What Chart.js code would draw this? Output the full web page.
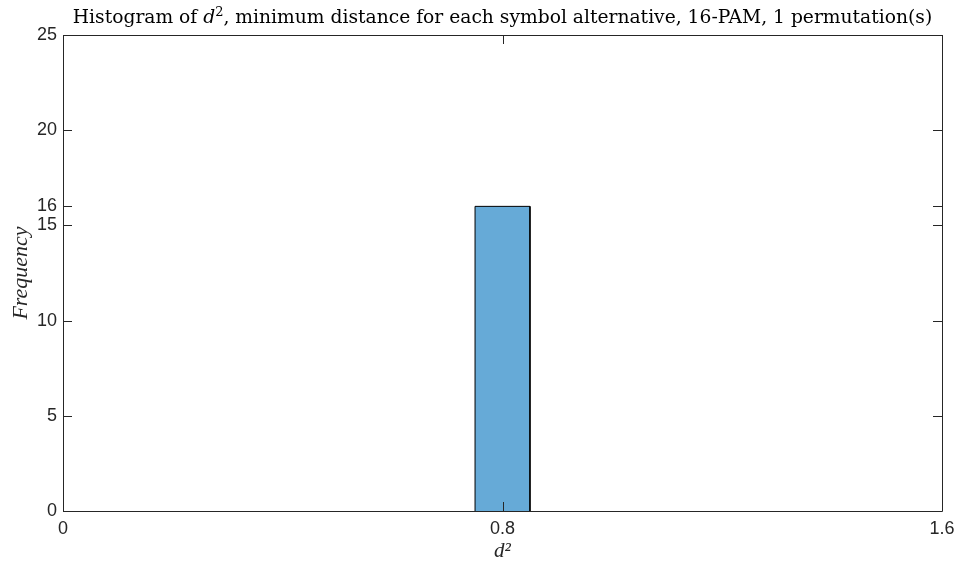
<!DOCTYPE html>
<html>
<head>
<meta charset="utf-8">
<script src="https://cdn.jsdelivr.net/npm/chart.js@4.4.1/dist/chart.umd.min.js"></script>
<style>
  html, body { margin: 0; padding: 0; background: #fff; }
  #wrap { width: 959px; height: 567px; }
</style>
</head>
<body>
<div id="wrap"><canvas id="hist"></canvas></div>
<script>
// ── Data ────────────────────────────────────────────────
const binEdges = [0.75, 0.85];
const binCounts = [16];
const xTickValues = [0, 0.8, 1.6];
const yTickValues = [0, 5, 10, 15, 16, 20, 25];

const AXIS_COLOR = '#262626';
const TICK_FONT = { family: "'Liberation Sans', Arial, sans-serif", size: 18 };

// histogram outline as step points
const histPoints = [];
binCounts.forEach((c, i) => {
    const l = binEdges[i], r = binEdges[i + 1];
    histPoints.push({ x: l, y: 0 }, { x: l, y: c }, { x: r, y: c }, { x: r, y: 0 });
});

// ── Plugins ─────────────────────────────────────────────

// MATLAB style box with inward ticks on all sides
const boxPlugin = {
    id: 'box',
    afterDatasetsDraw(chart) {
        const { ctx, chartArea: a, scales } = chart;
        const len = 9;
        ctx.save();
        ctx.strokeStyle = AXIS_COLOR;
        ctx.lineWidth = 1;
        ctx.beginPath();
        ctx.rect(a.left + 0.5, a.top + 0.5, a.right - a.left, a.bottom - a.top);
        xTickValues.forEach(v => {
            const px = Math.round(scales.x.getPixelForValue(v)) + 0.5;
            ctx.moveTo(px, a.bottom); ctx.lineTo(px, a.bottom - len);
            ctx.moveTo(px, a.top); ctx.lineTo(px, a.top + len);
        });
        yTickValues.forEach(v => {
            const py = Math.round(scales.y.getPixelForValue(v)) + 0.5;
            ctx.moveTo(a.left, py); ctx.lineTo(a.left + len, py);
            ctx.moveTo(a.right, py); ctx.lineTo(a.right - len, py);
        });
        ctx.stroke();
        ctx.restore();
    }
};

// title with italic d and superscript 2
const titlePlugin = {
    id: 'mathTitle',
    afterDraw(chart) {
        const { ctx, chartArea: a } = chart;
        const size = 18.7;
        const fam = "'DejaVu Serif', 'Liberation Serif', serif";
        const parts = [
            { t: 'Histogram of ', f: `${size}px ${fam}`, dy: 0 },
            { t: 'd', f: `italic ${size}px ${fam}`, dy: 0 },
            { t: '2', f: `${Math.round(size * 0.7)}px ${fam}`, dy: -7 },
            { t: ', minimum distance for each symbol alternative, 16-PAM, 1 permutation(s)', f: `${size}px ${fam}`, dy: 0 }
        ];
        ctx.save();
        ctx.fillStyle = '#000';
        ctx.textBaseline = 'alphabetic';
        let total = 0;
        parts.forEach(p => { ctx.font = p.f; p.w = ctx.measureText(p.t).width; total += p.w; });
        let x = (a.left + a.right) / 2 - total / 2;
        const y = 23;
        parts.forEach(p => {
            ctx.font = p.f;
            ctx.fillText(p.t, x, y + p.dy);
            x += p.w;
        });
        ctx.restore();
    }
};

// ── Chart ───────────────────────────────────────────────

new Chart(document.getElementById('hist'), {
    type: 'line',
    data: {
        datasets: [{
            data: histPoints,
            backgroundColor: '#66AAD7',
            borderColor: '#000',
            borderWidth: 1,
            fill: 'origin',
            pointRadius: 0,
            tension: 0
        }]
    },
    options: {
        responsive: true,
        maintainAspectRatio: false,
        animation: false,
        layout: { padding: { top: 35, right: 17, left: 0, bottom: 0 } },
        plugins: {
            legend: { display: false },
            tooltip: { enabled: false }
        },
        scales: {
            x: {
                type: 'linear',
                min: 0,
                max: 1.6,
                afterBuildTicks: s => { s.ticks = xTickValues.map(v => ({ value: v })); },
                afterFit: s => { s.height = 56; s.paddingLeft = 0; s.paddingRight = 0; },
                grid: { display: false, drawTicks: false },
                border: { display: false },
                ticks: {
                    color: AXIS_COLOR,
                    font: TICK_FONT,
                    padding: 7,
                    maxRotation: 0,
                    callback: v => String(v)
                },
                title: {
                    display: true,
                    text: 'd²',
                    color: AXIS_COLOR,
                    font: { family: "'Liberation Serif', serif", size: 21, style: 'italic' },
                    padding: { top: 0, bottom: 3 }
                }
            },
            y: {
                min: 0,
                max: 25,
                afterBuildTicks: s => { s.ticks = yTickValues.map(v => ({ value: v })); },
                afterFit: s => { s.width = 63; s.paddingTop = 0; s.paddingBottom = 0; },
                grid: { display: false, drawTicks: false },
                border: { display: false },
                ticks: {
                    color: AXIS_COLOR,
                    font: TICK_FONT,
                    padding: 6,
                    callback: v => String(v)
                },
                title: {
                    display: true,
                    text: 'Frequency',
                    color: AXIS_COLOR,
                    font: { family: "'Liberation Serif', serif", size: 22, style: 'italic' },
                    padding: { top: 8, bottom: 0 }
                }
            }
        }
    },
    plugins: [boxPlugin, titlePlugin]
});
</script>
</body>
</html>
